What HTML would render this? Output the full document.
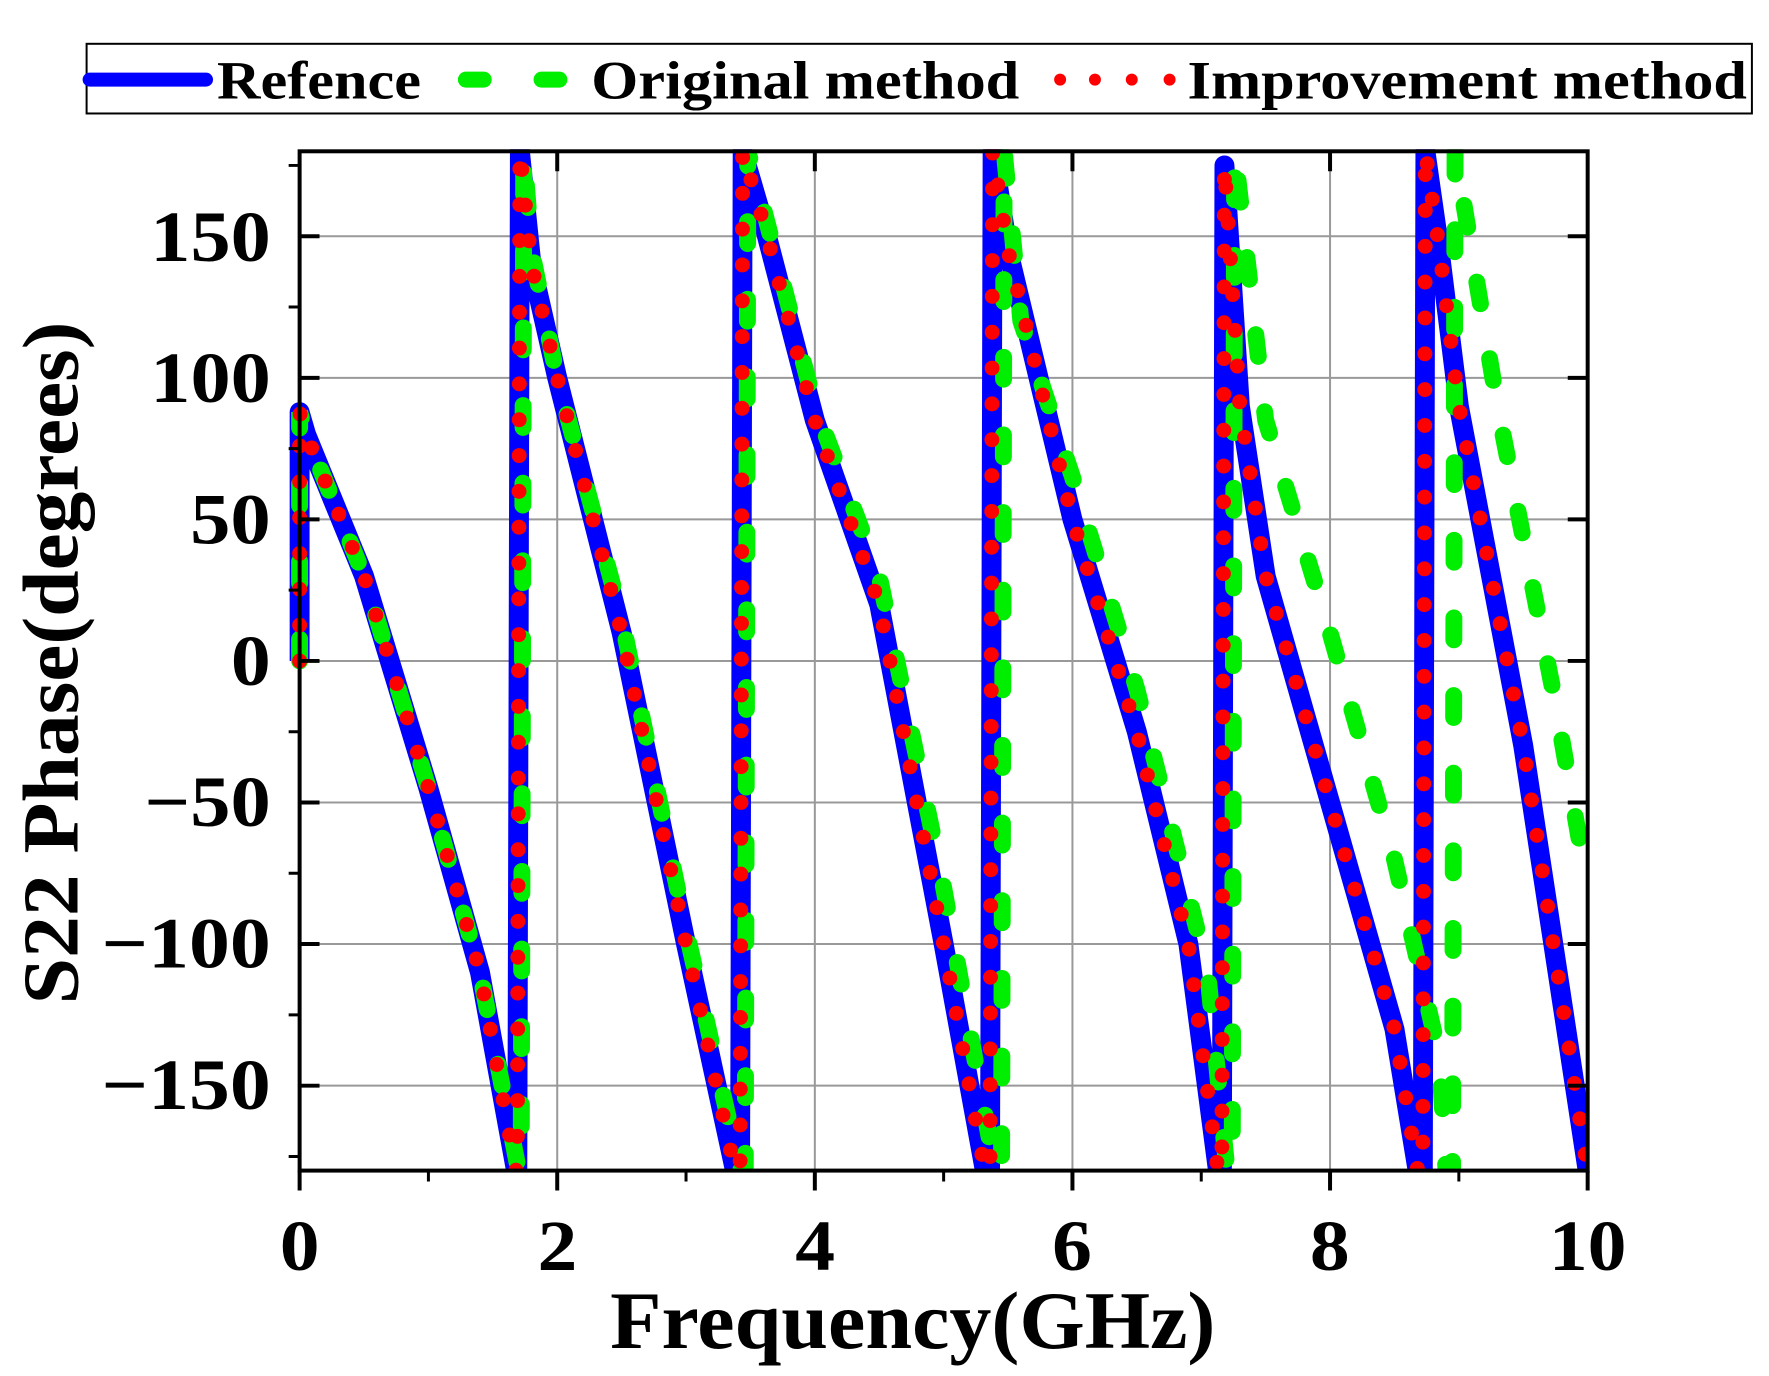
<!DOCTYPE html>
<html><head><meta charset="utf-8"><style>
html,body{margin:0;padding:0;background:#fff;}
svg{display:block;}
text{font-family:"Liberation Serif",serif;font-weight:bold;fill:#000;}
</style></head><body>
<svg width="1769" height="1376" viewBox="0 0 1769 1376" xmlns="http://www.w3.org/2000/svg">
<defs><clipPath id="cp"><rect x="280" y="150" width="1315" height="1026"/></clipPath></defs>
<rect width="1769" height="1376" fill="#fff"/>
<g transform="scale(0.9954)">
<g stroke="#999" stroke-width="2">
<line x1="559.8" y1="152" x2="559.8" y2="1176"/>
<line x1="818.6" y1="152" x2="818.6" y2="1176"/>
<line x1="1077.4" y1="152" x2="1077.4" y2="1176"/>
<line x1="1336.2" y1="152" x2="1336.2" y2="1176"/>
<line x1="301" y1="237.3" x2="1595" y2="237.3"/>
<line x1="301" y1="379.6" x2="1595" y2="379.6"/>
<line x1="301" y1="521.8" x2="1595" y2="521.8"/>
<line x1="301" y1="664" x2="1595" y2="664"/>
<line x1="301" y1="806.2" x2="1595" y2="806.2"/>
<line x1="301" y1="948.4" x2="1595" y2="948.4"/>
<line x1="301" y1="1090.7" x2="1595" y2="1090.7"/>
</g>
<g clip-path="url(#cp)">
<path fill="none" stroke="#0000ff" stroke-width="20" stroke-linejoin="round" d="M301,664 L301,414 L307.5,436.4 L365.7,578.7 L430.4,792 L482.2,976.9 L518.4,1176 L519.7,1176 L522.3,152 L533.9,265.8 L559.8,379.6 L624.5,635.6 L689.2,948.4 L738.4,1176 L743.5,1176 L746.1,152 L766.8,223.1 L818.6,422.2 L883.3,607.1 L948,948.4 L989.4,1176 L994.6,1176 L997.2,152 L1012.7,251.6 L1077.4,521.8 L1142.1,735.1 L1193.9,948.4 L1223.6,1176 L1227.5,1176 L1230.1,166.2 L1245.6,408 L1271.5,578.7 L1336.2,806.2 L1400.9,1033.8 L1424.2,1176 L1429.4,1176 L1432,152 L1446.2,251.6 L1465.6,408 L1530.3,749.3 L1595,1176"/>
<path fill="none" stroke="#00ee00" stroke-width="17" stroke-linecap="round" stroke-dasharray="22 56" d="M301,664 L301,414 L307.5,436.4 L365.7,578.7 L430.4,792 L482.2,976.9 L521,1176 L523.6,1176 L526.2,152 L533.9,251.6 L559.8,379.6 L624.5,621.3 L689.2,934.2 L743.5,1176 L748.7,1176 L751.3,152 L766.8,208.9 L818.6,408 L883.3,578.7 L948,891.6 L999.8,1176 L1006.2,1176 L1008.8,152 L1025.6,322.7 L1077.4,479.1 L1142.1,692.4 L1213.3,976.9 L1232.7,1176 L1237.9,1176 L1240.4,152 L1271.5,422.2 L1336.2,635.6 L1400.9,863.1 L1446.2,1062.2 L1452.7,1176 L1459.2,1176 L1461.8,152 L1504.4,408 L1562.7,706.7 L1595,891.6"/>
<path fill="none" stroke="#ff0000" stroke-width="15" stroke-linecap="round" stroke-dasharray="0 36" d="M301,664 L301,414 L307.5,436.4 L365.7,578.7 L430.4,792 L482.2,976.9 L518.4,1176 L519.7,1176 L522.3,152 L533.9,265.8 L559.8,379.6 L624.5,635.6 L689.2,948.4 L738.4,1176 L743.5,1176 L746.1,152 L766.8,223.1 L818.6,422.2 L883.3,607.1 L948,948.4 L989.4,1176 L994.6,1176 L997.2,152 L1012.7,251.6 L1077.4,521.8 L1142.1,735.1 L1193.9,948.4 L1223.6,1176 L1227.5,1176 L1230.1,166.2 L1245.6,408 L1271.5,578.7 L1336.2,806.2 L1400.9,1033.8 L1424.2,1176 L1429.4,1176 L1432,152 L1446.2,251.6 L1465.6,408 L1530.3,749.3 L1595,1176"/>
</g>
<!-- axes -->
<rect x="301" y="152" width="1294" height="1024" fill="none" stroke="#000" stroke-width="4"/>
<g stroke="#000" stroke-width="4">
<path d="M301,237.3h20M301,379.6h20M301,521.8h20M301,664h20M301,806.2h20M301,948.4h20M301,1090.7h20"/>
<path d="M1595,237.3h-20M1595,379.6h-20M1595,521.8h-20M1595,664h-20M1595,806.2h-20M1595,948.4h-20M1595,1090.7h-20"/>
<path d="M301,1176v20M559.8,1176v20M818.6,1176v20M1077.4,1176v20M1336.2,1176v20M1595,1176v20"/>
<path d="M559.8,152v20M818.6,152v20M1077.4,152v20M1336.2,152v20"/>
</g>
<g stroke="#000" stroke-width="3">
<path d="M301,166.2h-11M301,308.4h-11M301,450.7h-11M301,592.9h-11M301,735.1h-11M301,877.3h-11M301,1019.6h-11M301,1161.8h-11"/>
<path d="M430.4,1176v11M689.2,1176v11M948,1176v11M1206.8,1176v11M1465.6,1176v11"/>
</g>
<!-- legend -->
<rect x="87" y="44" width="1673" height="70" fill="#fff" stroke="#000" stroke-width="2"/>
<line x1="90" y1="80" x2="207" y2="80" stroke="#0000ff" stroke-width="14" stroke-linecap="round"/>
<text x="218" y="99" font-size="54" textLength="205" lengthAdjust="spacingAndGlyphs">Refence</text>
<line x1="468" y1="80" x2="580" y2="80" stroke="#00ee00" stroke-width="16" stroke-linecap="round" stroke-dasharray="18 58"/>
<text x="594" y="99" font-size="54" textLength="430" lengthAdjust="spacingAndGlyphs">Original method</text>
<g fill="#ff0000"><circle cx="1065" cy="80" r="6"/><circle cx="1100" cy="80" r="6"/><circle cx="1137" cy="80" r="6"/><circle cx="1175" cy="80" r="6"/></g>
<text x="1193" y="99" font-size="54" textLength="562" lengthAdjust="spacingAndGlyphs">Improvement method</text>
<!-- y labels -->
<g font-size="72">
<text x="151" y="262" textLength="121" lengthAdjust="spacingAndGlyphs">150</text>
<text x="151" y="404" textLength="121" lengthAdjust="spacingAndGlyphs">100</text>
<text x="191" y="546" textLength="81" lengthAdjust="spacingAndGlyphs">50</text>
<text x="232" y="688" textLength="40" lengthAdjust="spacingAndGlyphs">0</text>
<text x="145" y="830" textLength="127" lengthAdjust="spacingAndGlyphs">−50</text>
<text x="102" y="972" textLength="170" lengthAdjust="spacingAndGlyphs">−100</text>
<text x="102" y="1114" textLength="170" lengthAdjust="spacingAndGlyphs">−150</text>
</g>
<g font-size="72">
<text x="281" y="1276" textLength="40" lengthAdjust="spacingAndGlyphs">0</text>
<text x="540" y="1276" textLength="40" lengthAdjust="spacingAndGlyphs">2</text>
<text x="799" y="1276" textLength="40" lengthAdjust="spacingAndGlyphs">4</text>
<text x="1057" y="1276" textLength="40" lengthAdjust="spacingAndGlyphs">6</text>
<text x="1316" y="1276" textLength="40" lengthAdjust="spacingAndGlyphs">8</text>
<text x="1556" y="1276" textLength="78" lengthAdjust="spacingAndGlyphs">10</text>
</g>
<text x="613" y="1354" font-size="82" textLength="608" lengthAdjust="spacingAndGlyphs">Frequency(GHz)</text>
<text transform="translate(78,1009) rotate(-90)" font-size="80" textLength="686" lengthAdjust="spacingAndGlyphs">S22 Phase(degrees)</text>
</g>
</svg>
</body></html>
